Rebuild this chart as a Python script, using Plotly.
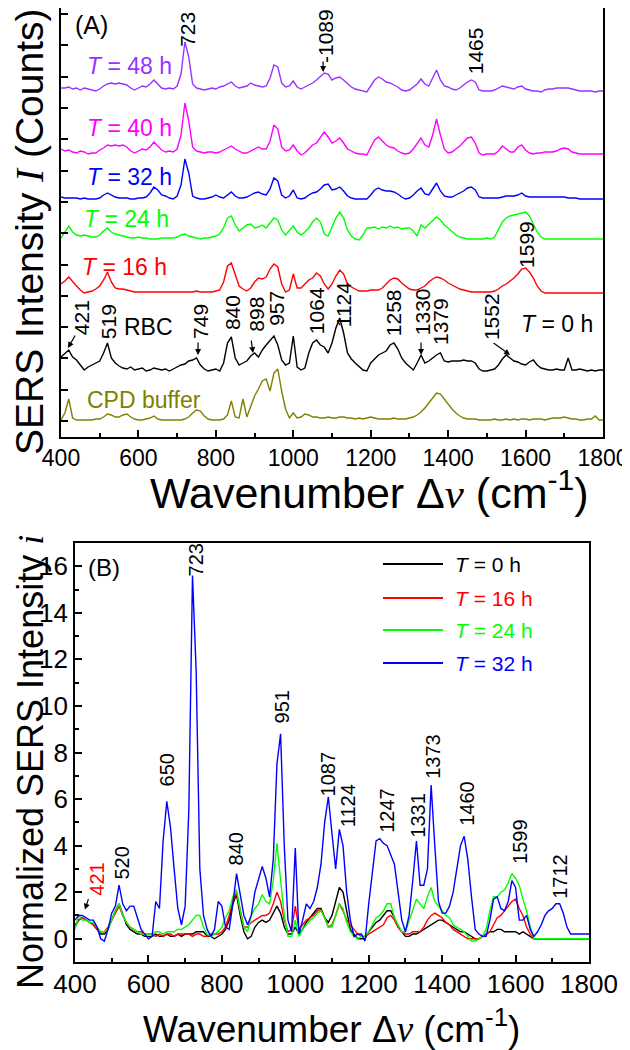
import plotly.graph_objects as go

# ---------------- data ----------------
WN = list(range(400, 1801, 10))  # wavenumber grid (cm^-1)

# Panel A: stacked SERS spectra (height above each trace's own baseline, arbitrary counts)
TOP_NAMES = ["T = 48 h", "T = 40 h", "T = 32 h", "T = 24 h", "T = 16 h", "T = 0 h (RBC)", "CPD buffer"]
TOP_COLORS = ["#9933FF", "#FF00FF", "#0000FF", "#00FF00", "#FF0000", "#000000", "#808000"]
TOP_OFFSETS = [345, 282, 236, 197, 143, 64, 16]

A_48H = [4, 4, 5, 3, 4, 2, 4, 3, 2, 1,
         3, 6, 8, 9, 8, 9, 8, 7, 4, 2,
         4, 6, 5, 8, 12, 8, 4, 3, 4, 3,
         6, 18, 50, 35, 8, 4, 3, 2, 3, 4,
         3, 5, 6, 8, 10, 6, 4, 5, 6, 9,
         7, 6, 5, 6, 14, 27, 25, 9, 5, 6,
         11, 5, 3, 5, 7, 9, 12, 16, 19, 18,
         12, 14, 15, 12, 8, 5, 3, 2, 1, 0,
         6, 12, 15, 13, 10, 9, 7, 5, 2, 1,
         2, 5, 8, 13, 8, 6, 14, 22, 12, 6,
         5, 3, 2, 4, 7, 10, 12, 10, 2, 1,
         1, 1, 2, 4, 6, 5, 4, 3, 5, 6,
         3, 2, 1, 1, 0, 2, 3, 3, 4, 4,
         4, 4, 3, 2, 1, 1, 1, 1, 0, 1,
         1]
A_40H = [6, 4, 5, 3, 2, 4, 3, 1, 2, 2,
         5, 7, 10, 9, 10, 9, 10, 8, 4, 2,
         4, 6, 5, 8, 13, 9, 5, 3, 4, 3,
         6, 20, 52, 34, 8, 4, 3, 2, 3, 3,
         2, 3, 5, 7, 9, 6, 4, 2, 2, 4,
         6, 8, 6, 6, 14, 30, 26, 8, 4, 5,
         10, 4, 0, 2, 6, 10, 12, 18, 23, 18,
         12, 14, 17, 12, 6, 4, 2, 1, 1, 0,
         8, 15, 18, 14, 10, 8, 7, 4, 2, 1,
         2, 6, 12, 17, 10, 8, 20, 36, 20, 6,
         2, 3, 6, 9, 13, 17, 18, 12, 2, 0,
         1, 1, 1, 4, 9, 6, 3, 3, 8, 10,
         5, 2, 1, 2, 2, 3, 3, 3, 4, 6,
         7, 6, 3, 2, 1, 1, 1, 1, 1, 1,
         1]
A_32H = [4, 3, 3, 3, 3, 2, 3, 2, 2, 2,
         3, 6, 8, 6, 4, 3, 3, 3, 2, 2,
         3, 3, 4, 8, 14, 11, 6, 5, 3, 2,
         5, 16, 42, 28, 5, 3, 2, 2, 3, 4,
         6, 4, 3, 6, 9, 5, 3, 3, 4, 6,
         8, 9, 7, 6, 12, 23, 20, 6, 3, 5,
         11, 3, 2, 3, 6, 8, 9, 12, 16, 17,
         11, 12, 14, 10, 5, 3, 2, 2, 2, 2,
         6, 11, 13, 11, 10, 10, 9, 7, 4, 2,
         3, 6, 10, 13, 7, 6, 12, 18, 10, 5,
         4, 4, 6, 8, 10, 13, 14, 11, 4, 3,
         3, 3, 3, 3, 4, 5, 5, 5, 6, 8,
         5, 4, 4, 4, 4, 4, 4, 4, 4, 4,
         4, 3, 3, 3, 2, 2, 2, 2, 2, 2,
         2]
A_24H = [2, 8, 14, 8, 5, 4, 5, 4, 3, 3,
         5, 9, 12, 8, 6, 5, 4, 3, 2, 2,
         3, 2, 2, 1, 1, 1, 2, 2, 2, 2,
         3, 5, 6, 4, 3, 2, 1, 2, 2, 3,
         4, 6, 12, 22, 24, 15, 9, 12, 15, 16,
         12, 13, 15, 12, 17, 22, 20, 10, 5, 9,
         14, 8, 5, 8, 12, 18, 22, 18, 6, 4,
         13, 22, 28, 22, 10, 4, 1, 0, 5, 12,
         12, 13, 11, 13, 12, 14, 12, 13, 11, 12,
         12, 9, 4, 15, 12, 16, 20, 23, 20, 15,
         12, 8, 5, 3, 2, 1, 1, 1, 1, 1,
         2, 1, 3, 10, 18, 22, 24, 25, 26, 27,
         28, 24, 16, 8, 3, 1, 1, 1, 1, 1,
         1, 1, 1, 1, 1, 1, 1, 1, 1, 1,
         1]
A_16H = [10, 13, 17, 12, 8, 4, 1, 2, 3, 5,
         8, 14, 22, 12, 6, 5, 5, 4, 3, 2,
         2, 2, 2, 2, 2, 2, 2, 2, 2, 2,
         2, 2, 2, 2, 2, 3, 2, 2, 2, 2,
         3, 4, 12, 28, 31, 20, 8, 5, 3, 6,
         12, 16, 15, 17, 25, 30, 27, 10, 2, 4,
         20, 6, 6, 10, 14, 16, 21, 18, 10, 5,
         10, 18, 24, 20, 10, 7, 5, 3, 3, 3,
         4, 4, 4, 6, 10, 14, 16, 15, 11, 8,
         5, 4, 4, 6, 8, 12, 15, 17, 16, 14,
         11, 9, 7, 5, 4, 3, 2, 2, 2, 2,
         2, 2, 3, 5, 8, 10, 13, 16, 20, 25,
         26, 22, 16, 8, 3, 1, 1, 1, 1, 1,
         1, 1, 1, 1, 1, 1, 1, 1, 1, 1,
         1]
A_0H = [16, 20, 23, 16, 13, 8, 3, 6, 8, 10,
        12, 20, 30, 15, 10, 7, 5, 4, 6, 3,
        4, 5, 2, 3, 5, 4, 3, 4, 2, 4,
        6, 8, 9, 12, 13, 15, 8, 4, 2, 3,
        4, 2, 10, 30, 36, 15, 8, 10, 12, 17,
        20, 16, 23, 28, 33, 37, 28, 13, 8, 10,
        37, 6, 3, 5, 20, 30, 33, 28, 26, 20,
        30, 45, 55, 40, 20, 14, 10, 6, 3, 2,
        10, 14, 18, 20, 22, 28, 30, 24, 15, 10,
        6, 3, 10, 18, 10, 12, 15, 18, 20, 12,
        11, 12, 12, 12, 13, 12, 12, 10, 4, 2,
        2, 3, 4, 8, 14, 18, 15, 12, 11, 9,
        8, 11, 13, 8, 5, 4, 3, 3, 4, 3,
        3, 15, 3, 3, 4, 3, 2, 3, 2, 3,
        3]
A_CPD = [1, 8, 22, 3, 1, 1, 1, 1, 1, 2,
         2, 4, 7, 6, 4, 4, 6, 7, 4, 2,
         1, 1, 2, 3, 5, 2, 1, 1, 1, 1,
         1, 1, 2, 4, 8, 11, 10, 5, 2, 1,
         1, 1, 2, 6, 20, 4, 3, 22, 4, 15,
         25, 32, 40, 42, 30, 48, 52, 30, 12, 3,
         8, 3, 4, 7, 6, 4, 4, 3, 3, 4,
         3, 3, 4, 4, 3, 3, 2, 3, 2, 3,
         4, 3, 2, 2, 2, 2, 3, 2, 2, 2,
         3, 4, 6, 9, 13, 18, 24, 28, 27, 22,
         16, 12, 8, 5, 3, 2, 2, 2, 1, 1,
         1, 1, 2, 1, 1, 2, 1, 2, 1, 2,
         2, 1, 2, 2, 2, 1, 2, 3, 3, 3,
         4, 3, 2, 2, 1, 1, 2, 2, 5, 1,
         1]
TOP_SERIES = [A_48H, A_40H, A_32H, A_24H, A_16H, A_0H, A_CPD]

# Panel B: normalized SERS intensity i
BOT_NAMES = ["<i>T</i> = 0 h", "<i>T</i> = 16 h", "<i>T</i> = 24 h", "<i>T</i> = 32 h"]
BOT_COLORS = ["#000000", "#FF0000", "#00FF00", "#0000FF"]
B_0H = [0.6, 0.8, 0.9, 0.8, 0.7, 0.6, 0.4, 0.2, 0.2, 0.4,
        0.8, 1.2, 1.5, 1.0, 0.6, 0.4, 0.3, 0.2, 0.2, 0.1,
        0.1, 0.1, 0.2, 0.1, 0.1, 0.2, 0.1, 0.1, 0.2, 0.1,
        0.2, 0.2, 0.2, 0.3, 0.3, 0.3, 0.1, 0.1, 0.0, 0.1,
        0.2, 0.4, 0.8, 1.5, 1.9, 1.0, 0.3, 0.0, 0.1, 0.5,
        0.7, 0.8, 0.7, 0.8, 1.1, 1.4, 1.1, 0.5, 0.2, 0.2,
        0.5, 0.2, 0.4, 0.7, 0.9, 1.1, 1.3, 1.3, 0.9, 0.7,
        1.0, 1.6, 2.2, 2.0, 1.2, 0.4, 0.2, 0.0, 0.0, 0.0,
        0.3, 0.5, 0.7, 0.8, 1.0, 1.2, 1.2, 0.9, 0.5, 0.3,
        0.1, 0.1, 0.2, 0.2, 0.3, 0.4, 0.5, 0.6, 0.7, 0.8,
        0.8, 0.7, 0.6, 0.5, 0.4, 0.3, 0.3, 0.2, 0.1, 0.0,
        0.0, 0.1, 0.2, 0.3, 0.3, 0.4, 0.4, 0.3, 0.3, 0.3,
        0.3, 0.2, 0.3, 0.2, 0.1, 0.0, 0.0, 0.0, 0.0, 0.0,
        0.0, 0.0, 0.0, 0.0, 0.0, 0.0, 0.0, 0.0, 0.0, 0.0,
        0.0]
B_16H = [0.5, 0.8, 0.9, 0.8, 0.7, 0.6, 0.4, 0.3, 0.3, 0.5,
         0.8, 1.1, 1.4, 1.0, 0.7, 0.5, 0.4, 0.3, 0.3, 0.2,
         0.2, 0.2, 0.1, 0.2, 0.1, 0.2, 0.2, 0.1, 0.2, 0.2,
         0.2, 0.2, 0.1, 0.2, 0.2, 0.1, 0.1, 0.2, 0.2, 0.2,
         0.3, 0.5, 1.0, 1.6, 2.0, 1.2, 0.5, 0.5, 0.7, 0.8,
         0.9, 1.0, 1.0, 1.1, 1.5, 2.0, 1.6, 0.8, 0.3, 0.4,
         1.4, 0.4, 0.6, 0.8, 0.9, 1.0, 1.2, 1.25, 0.9, 0.5,
         0.6, 1.0, 1.5, 1.2, 0.8, 0.6, 0.4, 0.2, 0.1, 0.1,
         0.2, 0.3, 0.4, 0.5, 0.6, 0.9, 1.0, 0.8, 0.5, 0.3,
         0.2, 0.2, 0.3, 0.3, 0.3, 0.5, 0.8, 1.0, 1.1, 1.0,
         0.9, 0.7, 0.6, 0.4, 0.3, 0.2, 0.1, 0.0, 0.0, 0.0,
         0.0, 0.1, 0.2, 0.3, 0.6, 0.9, 1.0, 1.2, 1.4, 1.6,
         1.7, 1.3, 1.0, 0.5, 0.2, 0.0, 0.0, 0.0, 0.0, 0.0,
         0.0, 0.0, 0.0, 0.0, 0.0, 0.0, 0.0, 0.0, 0.0, 0.0,
         0.0]
B_24H = [0.4, 1.0, 0.8, 0.8, 0.7, 0.7, 0.5, 0.3, 0.3, 0.4,
         0.8, 1.2, 1.5, 1.0, 0.7, 0.5, 0.4, 0.3, 0.2, 0.2,
         0.2, 0.2, 0.3, 0.3, 0.2, 0.3, 0.3, 0.3, 0.4, 0.4,
         0.5, 0.6, 0.8, 1.0, 1.0, 0.5, 0.2, 0.1, 0.2, 0.3,
         0.5, 0.9, 1.2, 1.8, 2.1, 1.2, 0.5, 0.3, 1.0, 1.3,
         1.5, 1.9, 1.6, 1.5, 2.5, 4.1, 2.5, 1.0, 0.1, 0.1,
         0.8, 0.1, 0.4, 0.6, 0.8, 0.9, 1.1, 1.2, 0.9, 0.5,
         0.5, 1.0, 1.5, 1.3, 0.7, 0.3, 0.1, 0.0, 0.1, 0.1,
         0.3, 0.6, 0.9, 1.0, 1.2, 1.5, 1.5, 0.9, 0.6, 0.3,
         0.3, 0.8, 1.2, 1.7, 1.5, 1.3, 1.8, 2.2, 1.6, 1.4,
         1.2, 1.0, 0.9, 0.6, 0.5, 0.4, 0.3, 0.1, -0.1, -0.1,
         0.0, 0.1, 0.4, 1.2, 1.8, 1.8, 2.0, 2.1, 2.4, 2.8,
         2.6, 2.3, 1.7, 1.2, 0.5, 0.0, 0.0, 0.0, 0.0, 0.0,
         0.0, 0.0, 0.0, 0.0, 0.0, 0.0, 0.0, 0.0, 0.0, 0.0,
         0.0]
B_32H = [0.8, 1.0, 1.0, 0.9, 0.8, 0.8, 0.5, 0.0, -0.1, 0.4,
         1.1, 1.4, 2.3, 1.5, 1.2, 1.4, 1.4, 0.9, 0.4, 0.2,
         0.0, 0.1, 1.6, 1.3, 4.2, 5.9, 4.8, 3.0, 1.3, 0.6,
         1.4, 5.5, 15.6, 11.5, 3.0, 1.0, 0.4, 0.1, 0.4, 1.6,
         1.4, 0.5, 0.4, 1.5, 2.8, 1.9, 1.0, 0.6, 1.0, 2.0,
         2.6, 3.1, 2.6, 1.8, 3.4, 7.5, 8.8, 4.0, 0.8, 0.3,
         3.9, 0.2, 0.8, 1.5, 1.3, 1.6, 2.2, 3.2, 5.0, 6.1,
         4.5, 3.0, 4.7, 4.0, 2.0, 0.8, 0.1, 0.2, 0.2, -0.1,
         1.5, 3.0, 4.2, 4.3, 4.1, 4.0, 3.6, 3.2, 2.0, 0.8,
         0.3, 1.0, 2.5, 4.2, 2.3, 2.3, 3.0, 6.6, 4.0, 1.6,
         1.1, 1.1, 1.4, 2.0, 3.0, 4.0, 4.4, 3.4, 1.8, 0.4,
         0.2, 0.1, 0.1, 0.8, 1.7, 1.8, 1.3, 1.2, 1.6, 2.5,
         2.2, 0.8, 0.8, 1.0, 0.4, 0.1, 0.3, 0.6, 1.0, 1.2,
         1.3, 1.5, 1.5, 1.1, 0.5, 0.2, 0.2, 0.2, 0.2, 0.2,
         0.2]
BOT_SERIES = [B_0H, B_16H, B_24H, B_32H]

# Peak labels: (text, wavenumber position, height)
TOP_PEAKS = [("723", 725, 408), ("-1089", 1082, 401), ("1465", 1470, 386), ("1599", 1601, 193),
             ("421", 452, 119), ("519", 522, 115), ("749", 759, 116), ("840", 842, 124),
             ("898", 903, 123), ("957", 955, 129), ("1064", 1059, 126), ("1124", 1129, 132),
             ("1258", 1258, 124), ("1330", 1333, 125), ("1379", 1379, 115), ("1552", 1511, 120)]
TOP_ARROWS = [(418, 89, 8, -14), (754, 82, 0, -14), (896, 84, -2, -14), (1330, 82, 0, -14),
              (1560, 82, -18, -13), (1077, 365, 0, -12)]
TOP_TEXTS = [("<i>T</i> = 48 h", 576, 371, "#9933FF"), ("<i>T</i> = 40 h", 576, 309, "#FF00FF"),
             ("<i>T</i> = 32 h", 576, 260, "#0000FF"), ("<i>T</i> = 24 h", 570, 218, "#00FF00"),
             ("<i>T</i> = 16 h", 565, 170, "#FF0000"), ("RBC", 625, 110, "#000000"),
             ("<i>T</i> = 0 h", 1681, 113, "#000000"), ("CPD buffer", 614, 37, "#808000")]
BOT_PEAKS = [("723", 730, 16.26, "black"), ("951", 964, 9.94, "black"), ("650", 653, 7.27, "black"),
             ("520", 528, 3.27, "black"), ("421", 460, 2.54, "#FF0000"), ("840", 838, 3.87, "black"),
             ("1087", 1089, 7.1, "black"), ("1124", 1144, 5.7, "black"), ("1247", 1250, 5.5, "black"),
             ("1331", 1335, 5.3, "black"), ("1373", 1376, 7.83, "black"), ("1460", 1468, 5.8, "black"),
             ("1599", 1610, 4.17, "black"), ("1712", 1719, 2.67, "black")]
BOT_ARROWS = [(427, 1.25, 4, -12)]

# ---------------- figure ----------------
# The page body adds an 8 px margin, so the figure is drawn 8 px smaller and
# positions below are given in window pixels, shifted by that margin.
PAGE_W, PAGE_H, BODY = 630, 1050, 8
W, H = PAGE_W - BODY, PAGE_H - BODY
FONT = "Liberation Sans, Arial, sans-serif"
SERIF = "font-family:Liberation Serif"


def px(x):
    return (x - BODY) / W


def py(y):
    return 1 - (y - BODY) / H


fig = go.Figure()
for name, col, off, vals in zip(TOP_NAMES, TOP_COLORS, TOP_OFFSETS, TOP_SERIES):
    fig.add_trace(go.Scatter(x=WN, y=[off + v for v in vals], mode="lines", name=name,
                             line=dict(color=col, width=1.4), xaxis="x", yaxis="y",
                             showlegend=False))
for name, col, vals in zip(BOT_NAMES, BOT_COLORS, BOT_SERIES):
    fig.add_trace(go.Scatter(x=WN, y=vals, mode="lines", name=name,
                             line=dict(color=col, width=1.4), xaxis="x2", yaxis="y2",
                             showlegend=False))

C = dict(xanchor="center", yanchor="middle")
ann = []
for t, x, y in TOP_PEAKS:
    ann.append(dict(text=t, x=x, y=y, xref="x", yref="y", showarrow=False, textangle=-90,
                    font=dict(size=21, color="black"), **C))
for x, y, ax, ay in TOP_ARROWS:
    ann.append(dict(text="", x=x, y=y, xref="x", yref="y", showarrow=True, ax=ax, ay=ay,
                    arrowhead=2, arrowsize=1, arrowwidth=1.2, arrowcolor="black"))
for t, x, y, c in TOP_TEXTS:
    ann.append(dict(text=t, x=x, y=y, xref="x", yref="y", showarrow=False,
                    font=dict(size=23, color=c), **C))
ann.append(dict(text="(A)", x=480, y=412, xref="x", yref="y", showarrow=False,
                font=dict(size=25, color="black"), **C))
for t, x, y, c in BOT_PEAKS:
    ann.append(dict(text=t, x=x, y=y, xref="x2", yref="y2", showarrow=False, textangle=-90,
                    font=dict(size=20, color=c), **C))
for x, y, ax, ay in BOT_ARROWS:
    ann.append(dict(text="", x=x, y=y, xref="x2", yref="y2", showarrow=True, ax=ax, ay=ay,
                    arrowhead=2, arrowsize=1, arrowwidth=1.2, arrowcolor="black"))
ann.append(dict(text="(B)", x=479, y=15.96, xref="x2", yref="y2", showarrow=False,
                font=dict(size=24, color="black"), **C))

# axis titles
ann.append(dict(text=f'Wavenumber Δ<span style="{SERIF}"><i>ν</i></span> (cm<sup>-1</sup>)',
                x=px(369), y=py(490), xref="paper", yref="paper", showarrow=False,
                font=dict(size=43, color="black"), **C))
ann.append(dict(text=f'SERS Intensity <span style="{SERIF}"><i>I</i></span> (Counts)',
                x=px(30), y=py(232), xref="paper", yref="paper", showarrow=False, textangle=-90,
                font=dict(size=39, color="black"), **C))
ann.append(dict(text=f'Wavenumber Δ<span style="{SERIF}"><i>ν</i></span> (cm<sup>-1</sup>)',
                x=px(331), y=py(1026), xref="paper", yref="paper", showarrow=False,
                font=dict(size=37, color="black"), **C))
ann.append(dict(text=f'Normalized SERS Intensity <span style="{SERIF}"><i>i</i></span>',
                x=px(30), y=py(762), xref="paper", yref="paper", showarrow=False, textangle=-90,
                font=dict(size=36, color="black"), **C))

# custom legend for panel B
shapes = []
LEG_ROWS = [564, 598, 630, 663]
for name, col, ry in zip(BOT_NAMES, BOT_COLORS, LEG_ROWS):
    shapes.append(dict(type="line", xref="paper", yref="paper", x0=px(383), x1=px(443),
                       y0=py(ry), y1=py(ry), line=dict(color=col, width=2)))
    ann.append(dict(text=name, x=px(453), y=py(ry), xref="paper", yref="paper", showarrow=False,
                    xanchor="left", yanchor="middle", font=dict(size=21, color=col)))

axis_common = dict(showline=True, linecolor="black", linewidth=1.8, mirror=True,
                   showgrid=False, zeroline=False, ticks="inside", tickcolor="black",
                   tickwidth=1.5, ticklen=7, automargin=False)

fig.update_layout(
    template="none",
    width=W, height=H, margin=dict(l=0, r=0, t=0, b=0, pad=0),
    paper_bgcolor="white", plot_bgcolor="white",
    font=dict(family=FONT, color="black"),
    showlegend=False,
    xaxis=dict(domain=[px(61), px(603)], range=[400, 1800], dtick=200, tick0=400,
               anchor="y", tickfont=dict(size=23), ticklabelstandoff=-1,
               minor=dict(dtick=100, ticks="inside", ticklen=4, tickcolor="black", tickwidth=1.5),
               **axis_common),
    yaxis=dict(domain=[py(437), py(BODY)], range=[0, 437 - BODY], tick0=16, dtick=31.3,
               showticklabels=False, anchor="x", **axis_common),
    xaxis2=dict(domain=[px(75), px(589)], range=[400, 1800], dtick=200, tick0=400,
                anchor="y2", tickfont=dict(size=26), ticklabelstandoff=-2,
                minor=dict(dtick=100, ticks="inside", ticklen=4, tickcolor="black", tickwidth=1.5),
                **axis_common),
    yaxis2=dict(domain=[py(962), py(543)], range=[-1, 17], dtick=2, tick0=0,
                anchor="x2", tickfont=dict(size=26),
                minor=dict(dtick=1, ticks="inside", ticklen=4, tickcolor="black", tickwidth=1.5),
                **axis_common),
    annotations=ann,
    shapes=shapes,
)

fig.write_html("out.html")
